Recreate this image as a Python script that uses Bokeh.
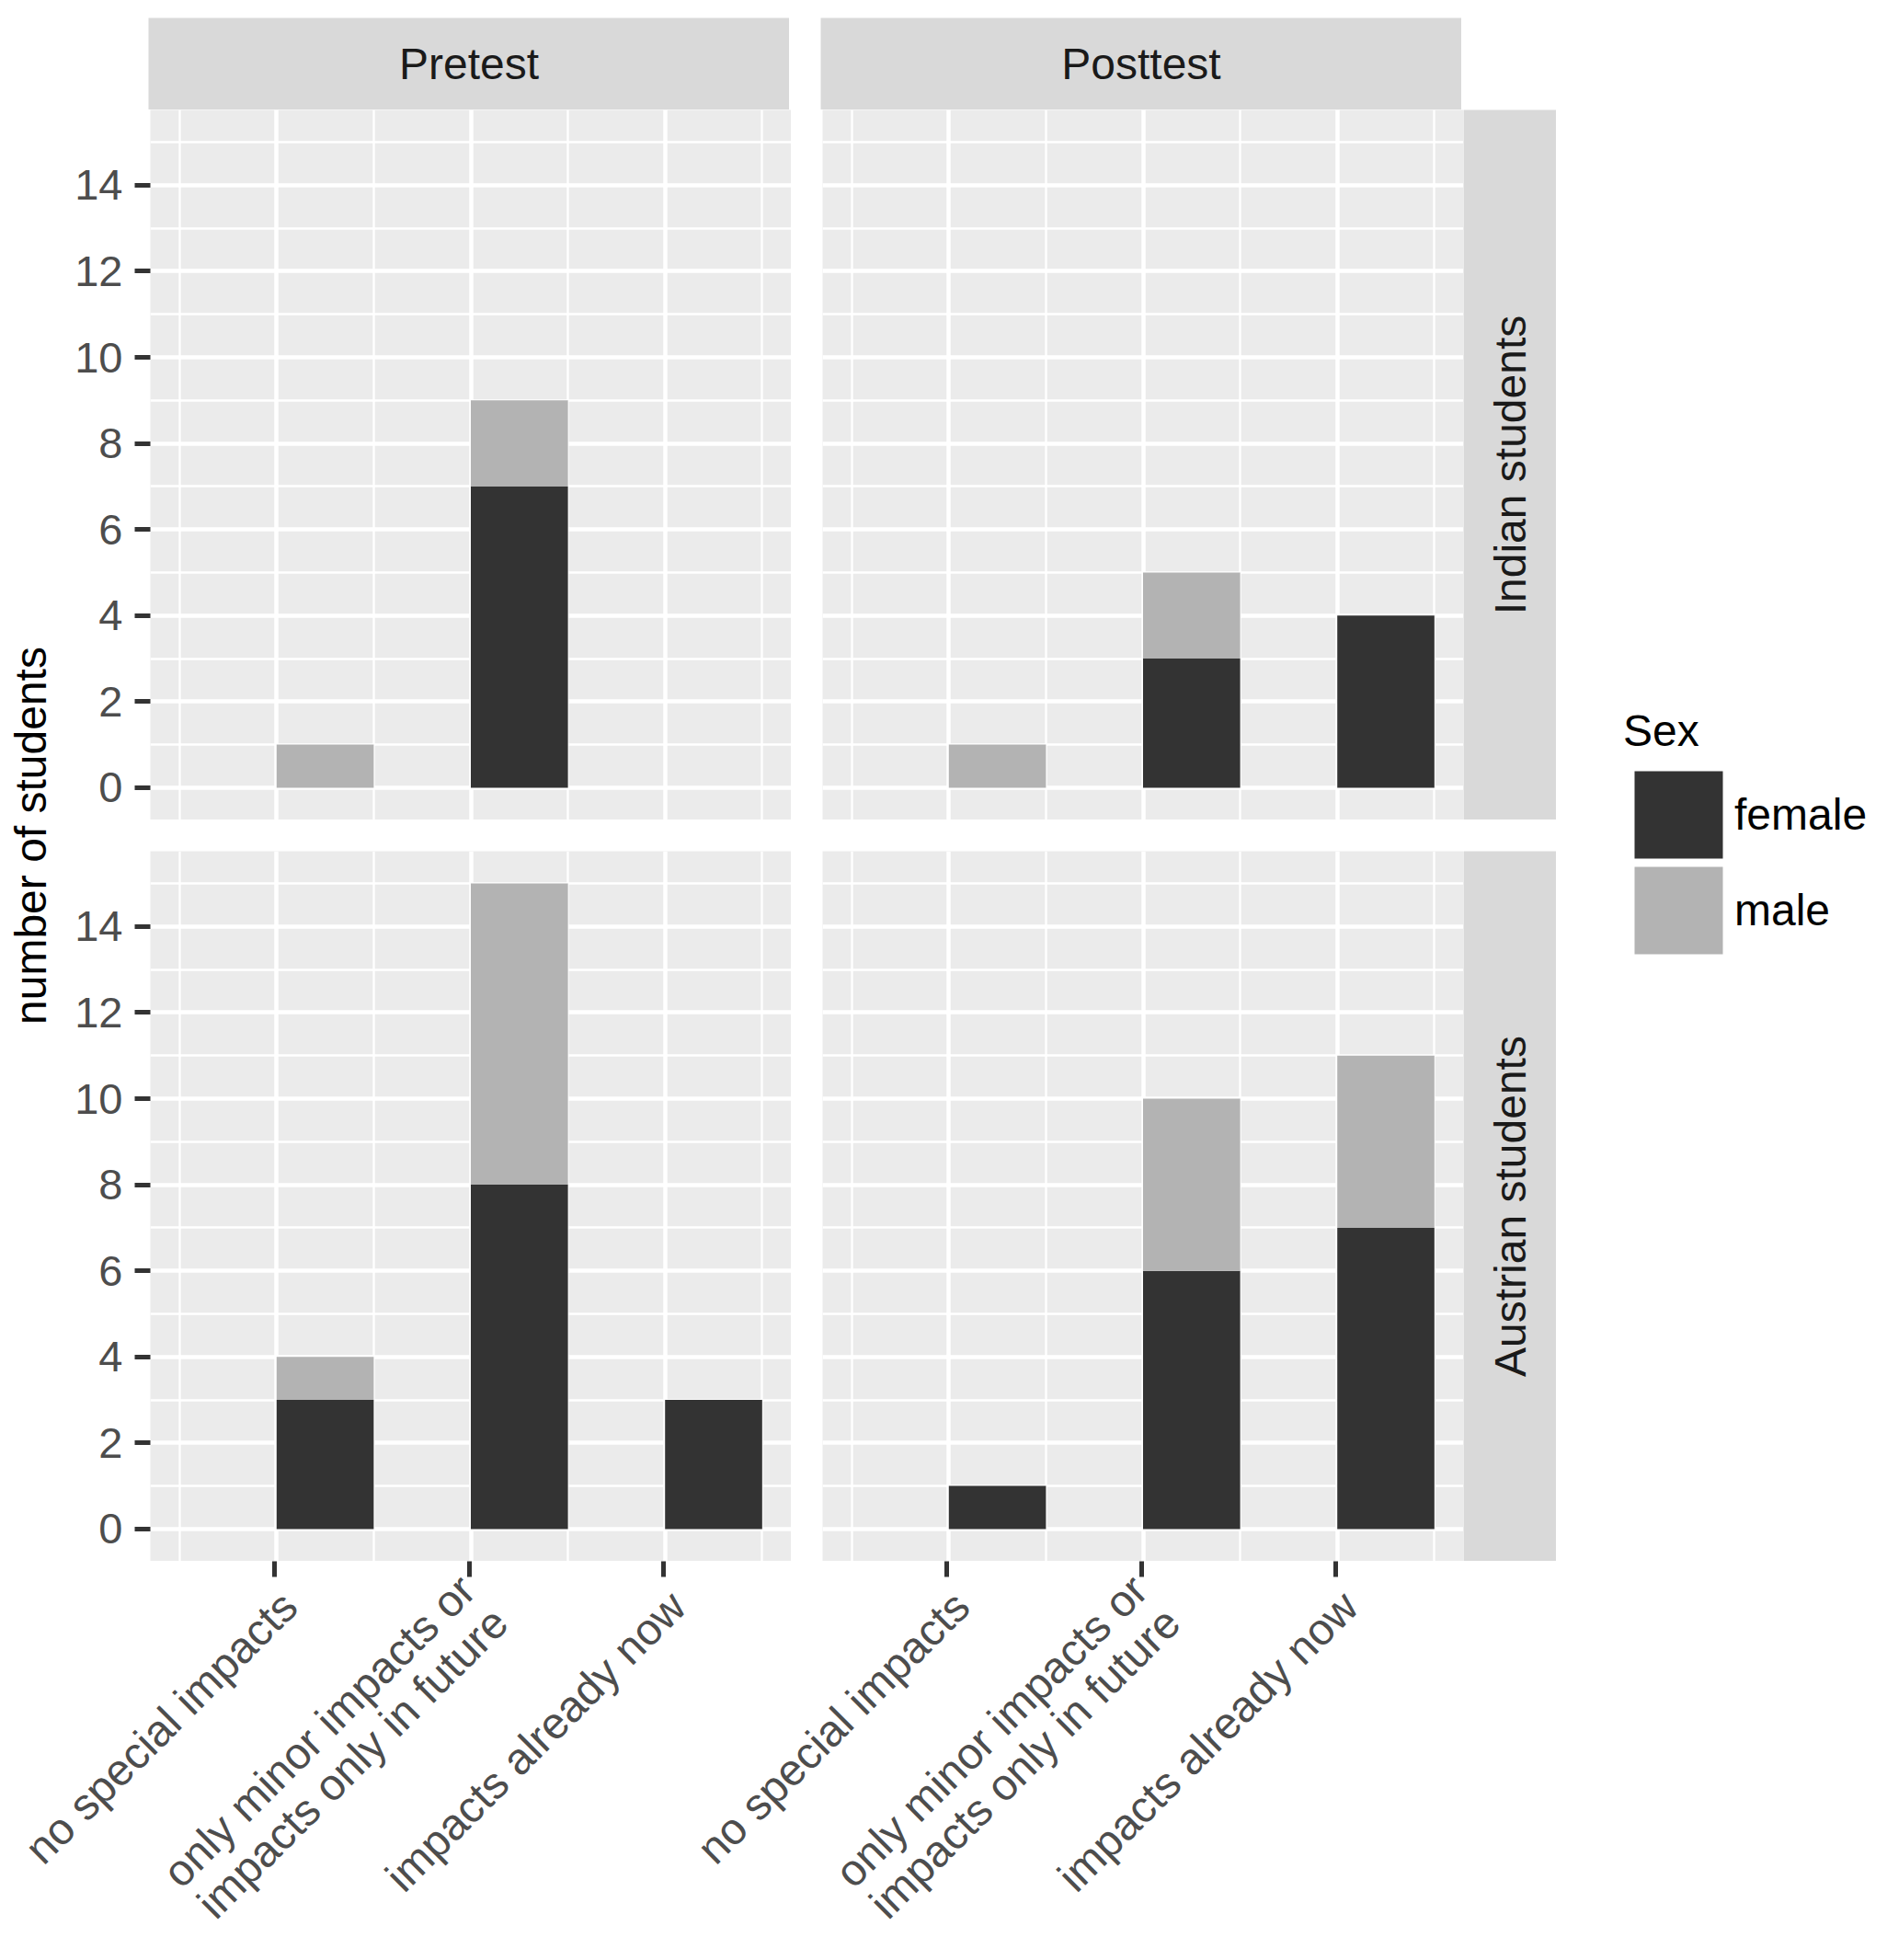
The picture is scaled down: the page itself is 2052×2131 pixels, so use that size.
import math
from bokeh.plotting import figure
from bokeh.models import (Range1d, ColumnDataSource, LinearAxis, Grid, FixedTicker,
                          Legend, LegendItem, Spacer, Title)
from bokeh.layouts import row, column
from bokeh.core.properties import value
from bokeh.embed import file_html
from bokeh.resources import INLINE

# ---------------- data ----------------
categories = ["no special impacts",
              "only minor impacts or\nimpacts only in future",
              "impacts already now"]
tests = ["Pretest", "Posttest"]
groups = ["Indian students", "Austrian students"]
sexes = ["female", "male"]

pre_indian_female = [0, 7, 0]
pre_indian_male = [1, 2, 0]
post_indian_female = [0, 3, 4]
post_indian_male = [1, 2, 0]
pre_austrian_female = [3, 8, 3]
pre_austrian_male = [1, 7, 0]
post_austrian_female = [1, 6, 7]
post_austrian_male = [0, 4, 4]

y_ticks = [0, 2, 4, 6, 8, 10, 12, 14]
y_minor = [1, 3, 5, 7, 9, 11, 13, 15]
y_title = "number of students"
legend_title = "Sex"

# ---------------- style ----------------
FONT = "Liberation Sans"
FEMALE = "#333333"
MALE = "#B3B3B3"
PANEL_BG = "#EBEBEB"
STRIP_BG = "#D9D9D9"
FRAME_W = 697
FRAME_H = 772
GAP = 34
STRIP_H = 100
STRIP_W = 101
LEFT_PAD = 4
LEFT_TITLE_W = 74
LEFT_AXIS_W = 83
TICK_LEN = 17
LABEL_H = 422
TOP_PAD = 19
BAR_W = 0.5
X_LO, X_HI = 0.35, 3.65
Y_LO, Y_HI = -0.75, 15.75
LABEL_DX_PX = 16
LABEL_DY_PX = 41

x_pos = [i + 1 for i in range(len(categories))]
x_minor = [p - 0.5 for p in x_pos] + [x_pos[-1] + 0.5]

TICK_STYLE = dict(major_tick_line_width=5, major_tick_line_color="#333333",
                  minor_tick_line_color=None, axis_line_color=None,
                  major_label_text_font=FONT)


def make_panel(fem, mal, show_y):
    p = figure(frame_width=FRAME_W, frame_height=FRAME_H,
               x_range=Range1d(X_LO, X_HI), y_range=Range1d(Y_LO, Y_HI),
               x_axis_type=None, y_axis_type=None,
               output_backend="svg", toolbar_location=None,
               background_fill_color=PANEL_BG, border_fill_color="white",
               outline_line_color=None,
               min_border_left=LEFT_AXIS_W if show_y else 0,
               min_border_right=0, min_border_top=0, min_border_bottom=0)
    xt = FixedTicker(ticks=x_pos, minor_ticks=x_minor)
    yt = FixedTicker(ticks=y_ticks, minor_ticks=y_minor)
    for dim, tk in ((0, xt), (1, yt)):
        p.add_layout(Grid(dimension=dim, ticker=tk,
                          grid_line_color="white", grid_line_width=4.5,
                          minor_grid_line_color="white", minor_grid_line_width=2.3))
    src = ColumnDataSource(dict(x=[c + BAR_W / 2 for c in x_pos], female=fem, male=mal))
    p.vbar_stack(sexes, x="x", width=BAR_W, fill_color=[FEMALE, MALE],
                 line_color=None, source=src)
    if show_y:
        ya = LinearAxis(ticker=yt, major_label_standoff=13,
                        major_tick_out=TICK_LEN, major_tick_in=0,
                        major_label_text_font_size="47px",
                        major_label_text_color="#4D4D4D", **TICK_STYLE)
        p.add_layout(ya, "left")
    return p


def make_strip(text, w, h, angle):
    s = figure(width=w, height=h, x_range=Range1d(0, 1), y_range=Range1d(0, 1),
               x_axis_type=None, y_axis_type=None, output_backend="svg",
               toolbar_location=None, background_fill_color=STRIP_BG,
               border_fill_color="white", outline_line_color=None, min_border=0)
    s.text(x=[0.5], y=[0.5], text=[text], angle=angle, text_align="center",
           text_baseline="middle", text_font=value(FONT), text_font_size="48px",
           text_color="#1A1A1A")
    return s


figA = make_panel(pre_indian_female, pre_indian_male, True)
figB = make_panel(post_indian_female, post_indian_male, False)
figC = make_panel(pre_austrian_female, pre_austrian_male, True)
figD = make_panel(post_austrian_female, post_austrian_male, False)

strip_pre = make_strip(tests[0], FRAME_W, STRIP_H, 0)
strip_post = make_strip(tests[1], FRAME_W, STRIP_H, 0)
strip_ind = make_strip(groups[0], STRIP_W, FRAME_H, math.pi / 2)
strip_aus = make_strip(groups[1], STRIP_W, FRAME_H, math.pi / 2)

rows_h = 2 * FRAME_H + GAP

# y axis title (a left-side title, centred on both panel rows)
yt_fig = figure(width=LEFT_TITLE_W, height=rows_h, x_range=Range1d(0, 1),
                y_range=Range1d(0, 1), x_axis_type=None, y_axis_type=None,
                output_backend="svg", toolbar_location=None, outline_line_color=None,
                min_border=0, background_fill_color="white", border_fill_color="white")
yt_fig.add_layout(Title(text=y_title, align="center", text_font=FONT,
                        text_font_size="48px", text_font_style="normal",
                        text_color="black", standoff=0, offset=0), "left")

# legend (one block per key so that the keys can sit close together)
total_h = TOP_PAD + STRIP_H + rows_h
lf = figure(width=340, height=total_h, x_range=Range1d(0, 1), y_range=Range1d(0, 1),
            x_axis_type=None, y_axis_type=None, output_backend="svg",
            toolbar_location=None, outline_line_color=None, min_border=0,
            background_fill_color="white", border_fill_color="white")
rf = lf.vbar(x=[0.5], bottom=[0], top=[0], width=0.0, fill_color=FEMALE, line_color=None)
rm = lf.vbar(x=[0.5], bottom=[0], top=[0], width=0.0, fill_color=MALE, line_color=None)
leg_style = dict(label_text_font=FONT, label_text_font_size="48px",
                 label_text_color="black", label_standoff=1,
                 glyph_width=120, glyph_height=119, label_height=119,
                 spacing=0, padding=0, margin=0, border_line_color=None,
                 background_fill_alpha=0)
leg1 = Legend(items=[LegendItem(label=sexes[0], renderers=[rf])],
              location=(73, 752), title=legend_title,
              title_text_font=FONT, title_text_font_size="48px", title_text_color="black",
              title_text_font_style="normal", title_standoff=4, **leg_style)
leg2 = Legend(items=[LegendItem(label=sexes[1], renderers=[rm])],
              location=(73, 648), **leg_style)
lf.add_layout(leg1)
lf.add_layout(leg2)

# x axis of the bottom row: tick marks + rotated category labels, on the panels' scale
label_w = LEFT_PAD + LEFT_TITLE_W + LEFT_AXIS_W + 2 * FRAME_W + GAP + STRIP_W
px_per_unit = FRAME_W / (X_HI - X_LO)
lab_x0 = X_LO - (LEFT_PAD + LEFT_TITLE_W + LEFT_AXIS_W) / px_per_unit
col_shift = (FRAME_W + GAP) / px_per_unit
lab_dx = LABEL_DX_PX / px_per_unit
tick_x = x_pos + [c + col_shift for c in x_pos]
lab_fig = figure(width=label_w, height=LABEL_H,
                 x_range=Range1d(lab_x0, lab_x0 + label_w / px_per_unit),
                 y_range=Range1d(LABEL_H, 0), x_axis_type=None, y_axis_type=None,
                 output_backend="svg", toolbar_location=None, outline_line_color=None,
                 min_border=0, background_fill_color="white", border_fill_color="white")
tick_axis = LinearAxis(ticker=FixedTicker(ticks=tick_x, minor_ticks=[]),
                       major_tick_in=TICK_LEN, major_tick_out=0, major_label_standoff=0,
                       major_label_text_font_size="0px", major_label_text_color=None,
                       **TICK_STYLE)
lab_fig.add_layout(tick_axis, "above")
lab_src = ColumnDataSource(dict(
    x=[c + lab_dx for c in tick_x],
    y=[LABEL_DY_PX] * len(tick_x),
    text=categories + categories))
lab_fig.text(x="x", y="y", text="text", source=lab_src, angle=math.pi / 4,
             text_align="right", text_baseline="middle", text_font=value(FONT),
             text_font_size="48px", text_color="#4D4D4D", text_line_height=0.95)

panel_grid = row(
    column(figA, Spacer(height=GAP), figC),
    Spacer(width=GAP),
    column(figB, Spacer(height=GAP), figD),
    column(strip_ind, Spacer(height=GAP), strip_aus),
)
strips_row = row(Spacer(width=LEFT_AXIS_W), strip_pre, Spacer(width=GAP), strip_post)
mid_col = column(Spacer(height=TOP_PAD), strips_row, panel_grid)
left_col = column(Spacer(height=TOP_PAD + STRIP_H), row(Spacer(width=LEFT_PAD), yt_fig))
top_part = row(left_col, mid_col, lf)
layout = column(top_part, lab_fig)

open("out.html", "w").write(file_html(layout, INLINE))
